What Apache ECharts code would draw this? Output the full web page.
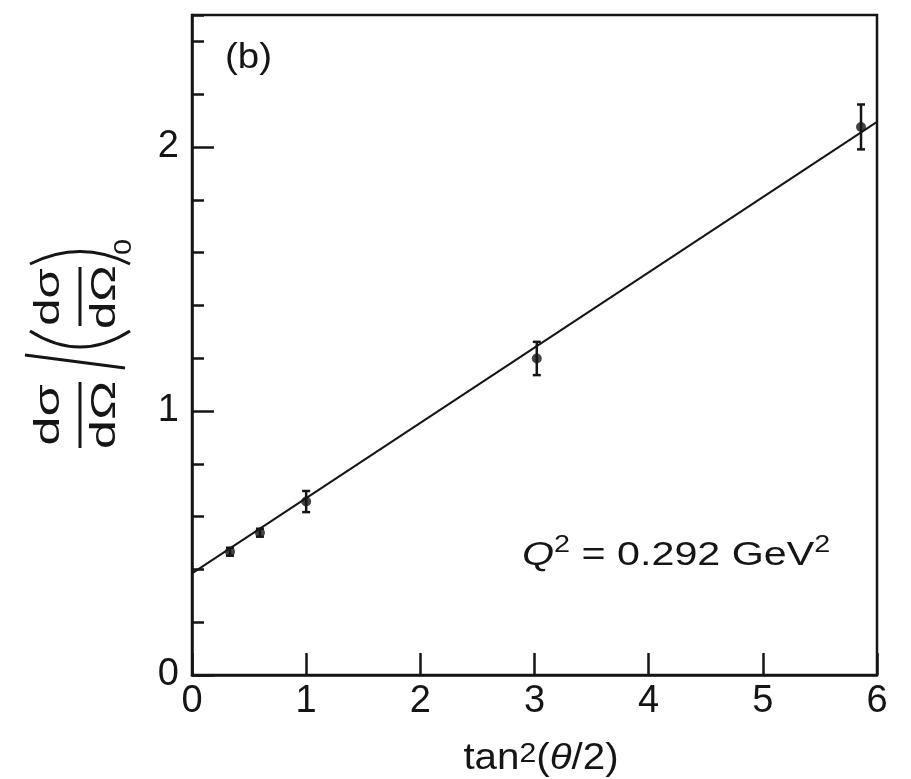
<!DOCTYPE html>
<html>
<head>
<meta charset="utf-8">
<script src="https://cdn.jsdelivr.net/npm/echarts@6/dist/echarts.min.js"></script>
<style>
  html, body { margin: 0; padding: 0; background: #fff; }
  #chart { width: 911px; height: 779px; }
</style>
</head>
<body>
<div id="chart"></div>
<script>
// measured points (Rosenbluth plot, panel b)
const tanSq = [0.333, 0.595, 1.0, 3.02, 5.86]
const ratio = [0.467, 0.539, 0.657, 1.199, 2.076]
const ratioErr = [0.015, 0.015, 0.04, 0.063, 0.085]

// straight-line fit, read at the two edges of the frame
const fitX = [0, 6]
const fitY = [0.385, 2.095]

const xTicks = [0, 1, 2, 3, 4, 5, 6]
const yTicks = [0, 1, 2]

const FONT = 'Liberation Sans, Arial, Helvetica, sans-serif'
const INK = '#151515'

const chart = echarts.init(document.getElementById('chart'))

// error bars drawn through the axes
const errData = tanSq.map((x, i) => [x, ratio[i] - ratioErr[i], ratio[i] + ratioErr[i]])

const renderErr = (params, api) => {
  const lo = api.coord([api.value(0), api.value(1)])
  const hi = api.coord([api.value(0), api.value(2)])
  const cap = 4
  const st = { stroke: INK, lineWidth: 2.5 }
  return {
    type: 'group',
    children: [
      { type: 'line', shape: { x1: lo[0], y1: lo[1], x2: hi[0], y2: hi[1] }, style: st },
      { type: 'line', shape: { x1: hi[0] - cap, y1: hi[1], x2: hi[0] + cap, y2: hi[1] }, style: st },
      { type: 'line', shape: { x1: lo[0] - cap, y1: lo[1], x2: lo[0] + cap, y2: lo[1] }, style: st }
    ]
  }
}

const txt = (text, x, y, size, opts = {}) => ({
  type: 'text',
  x: x,
  y: y,
  scaleX: opts.scaleX || 1,
  style: {
    text: text,
    font: (opts.italic ? 'italic ' : '') + size + 'px ' + FONT,
    fill: INK,
    align: opts.align || 'center',
    verticalAlign: 'middle',
    textAlign: opts.align || 'center',
    textVerticalAlign: 'middle',
    rich: opts.rich
  }
})

const stroke = { stroke: INK, lineWidth: 3, fill: null }

// y-axis title: d\sigma/d\Omega / (d\sigma/d\Omega)_0, built in local coords then rotated
const yTitle = {
  type: 'group',
  x: 80,
  y: 346,
  rotation: Math.PI / 2,
  children: [
    txt('dσ', -69, -31, 35, { scaleX: 1.5 }),
    { type: 'line', shape: { x1: -102, y1: 0, x2: -36, y2: 0 }, style: stroke },
    txt('dΩ', -69, 25, 35, { scaleX: 1.5 }),
    { type: 'line', shape: { x1: -22, y1: 45, x2: -9, y2: -55 }, style: stroke },
    { type: 'bezierCurve', shape: { x1: 15, y1: -50, cpx1: -17, cpy1: 0, x2: 15, y2: 50 }, style: stroke },
    txt('dσ', 49, -31, 35, { scaleX: 1.4 }),
    { type: 'line', shape: { x1: 20, y1: 0, x2: 79, y2: 0 }, style: stroke },
    txt('dΩ', 49, 25, 35, { scaleX: 1.4 }),
    { type: 'bezierCurve', shape: { x1: 82, y1: -50, cpx1: 107, cpy1: 0, x2: 82, y2: 50 }, style: stroke },
    txt('0', 99, 44, 24, { scaleX: 1.2 })
  ]
}

const option = {
  animation: false,
  backgroundColor: '#fff',
  grid: {
    left: 192,
    right: 34,
    top: 15,
    bottom: 104,
    show: true,
    borderColor: INK,
    borderWidth: 2.5,
    backgroundColor: 'transparent'
  },
  xAxis: {
    type: 'value',
    min: 0,
    max: 6,
    interval: 1,
    axisLine: { show: true, lineStyle: { color: INK, width: 2.5 } },
    axisTick: { show: true, inside: true, length: 22, lineStyle: { color: INK, width: 2.5 } },
    axisLabel: {
      fontSize: 38,
      fontFamily: FONT,
      color: INK,
      margin: 8,
      formatter: v => (xTicks.includes(v) ? String(v) : '')
    },
    splitLine: { show: false }
  },
  yAxis: [
    {
      type: 'value',
      position: 'left',
      min: 0,
      max: 2.5,
      interval: 1,
      axisLine: { show: true, lineStyle: { color: INK, width: 2.5 } },
      axisTick: { show: true, inside: true, length: 22, lineStyle: { color: INK, width: 2.5 } },
      axisLabel: {
        fontSize: 38,
        fontFamily: FONT,
        color: INK,
        margin: 13,
        showMaxLabel: false,
        formatter: v => (yTicks.includes(v) ? String(v) : '')
      },
      splitLine: { show: false }
    },
    {
      // short minor ticks every 0.2
      type: 'value',
      position: 'left',
      offset: 0,
      min: 0,
      max: 2.5,
      interval: 0.2,
      axisLine: { show: false },
      axisTick: { show: true, inside: true, length: 12, lineStyle: { color: INK, width: 2.5 } },
      axisLabel: { show: false },
      splitLine: { show: false }
    }
  ],
  graphic: [
    txt('(b)', 225, 58, 35, { align: 'left', scaleX: 1.1 }),
    txt('{q|Q}{s|2}{t| = 0.292 GeV}{s|2}', 522, 556, 33, {
      align: 'left',
      scaleX: 1.25,
      rich: {
        q: { fontSize: 33, fontStyle: 'italic', fontFamily: FONT, color: INK },
        t: { fontSize: 33, fontFamily: FONT, color: INK },
        s: { fontSize: 23, fontFamily: FONT, color: INK, verticalAlign: 'top', padding: [0, 0, 20, 0] }
      }
    }),
    txt('{t|tan}{s|2}{t|(}{i|θ}{t|/2)}', 541, 759, 36, {
      scaleX: 1.12,
      rich: {
        t: { fontSize: 36, fontFamily: FONT, color: INK },
        i: { fontSize: 36, fontStyle: 'italic', fontFamily: FONT, color: INK },
        s: { fontSize: 27, fontFamily: FONT, color: INK, verticalAlign: 'top', padding: [0, 0, 6, 0] }
      }
    }),
    yTitle
  ],
  series: [
    {
      type: 'line',
      data: fitX.map((x, i) => [x, fitY[i]]),
      showSymbol: false,
      lineStyle: { color: INK, width: 2 },
      z: 2
    },
    {
      type: 'custom',
      data: errData,
      encode: { x: 0, y: [1, 2] },
      renderItem: renderErr,
      z: 3
    },
    {
      type: 'scatter',
      data: tanSq.map((x, i) => [x, ratio[i]]),
      symbol: 'circle',
      symbolSize: 10,
      itemStyle: { color: INK },
      z: 4
    }
  ]
}

chart.setOption(option)
</script>
</body>
</html>
